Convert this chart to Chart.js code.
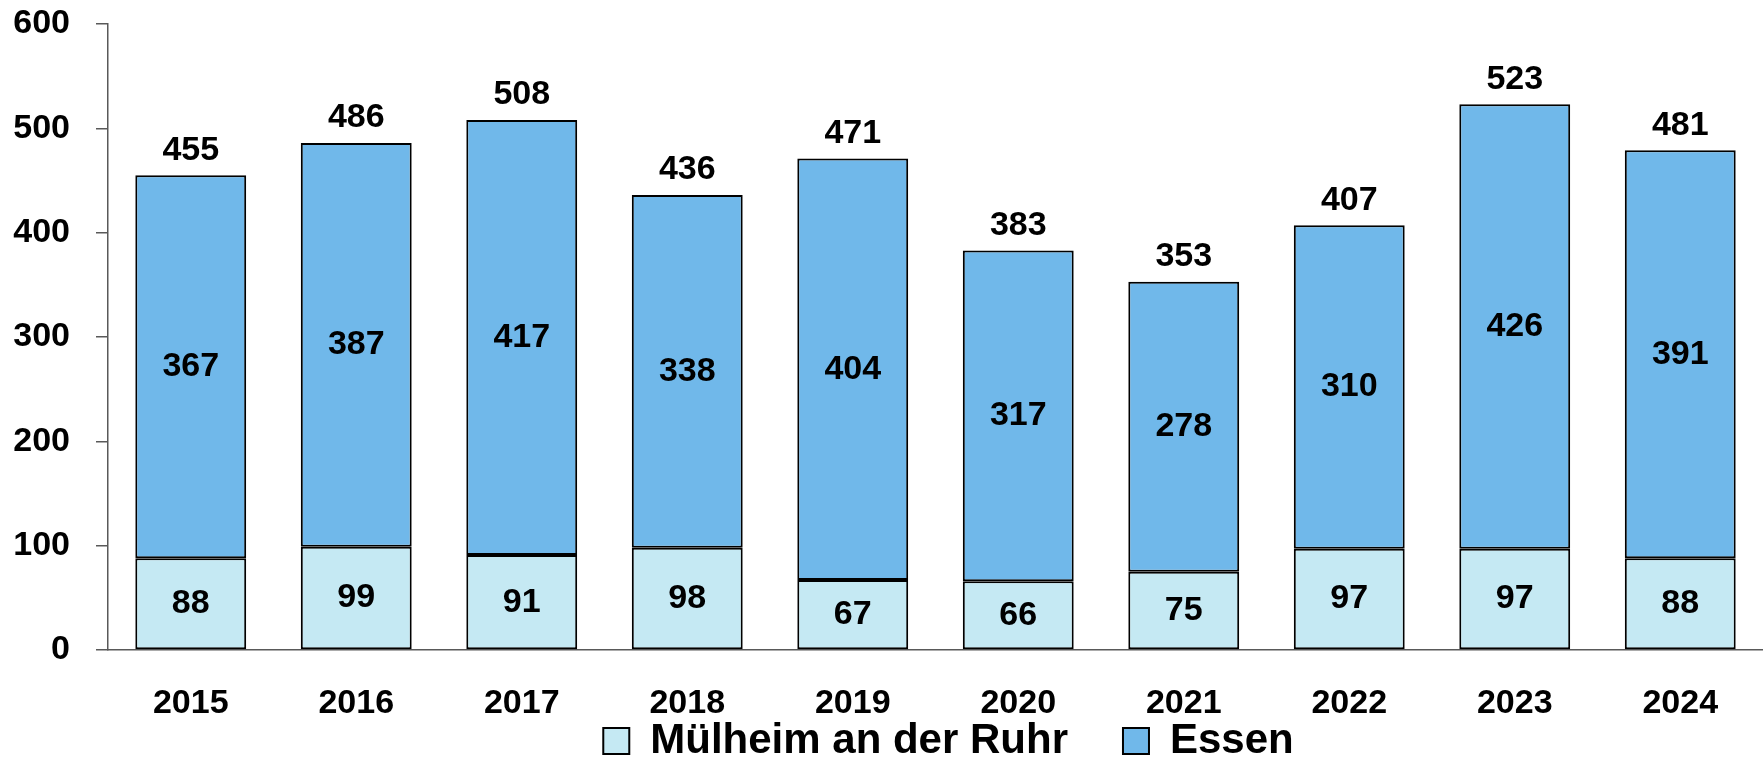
<!DOCTYPE html>
<html>
<head>
<meta charset="utf-8">
<script src="https://cdn.jsdelivr.net/npm/chart.js@4/dist/chart.umd.min.js"></script>
<style>
  html, body { margin: 0; padding: 0; background: #fff; }
  #wrap { width: 1763px; height: 759px; }
</style>
</head>
<body>
<div id="wrap"><canvas id="barChart"></canvas></div>
<script>
// ====== Daten ======
const jahre = ['2015', '2016', '2017', '2018', '2019', '2020', '2021', '2022', '2023', '2024'];
const muelheim = [88, 99, 91, 98, 67, 66, 75, 97, 97, 88];
const essen = [367, 387, 417, 338, 404, 317, 278, 310, 426, 391];
// Summen wie im Original beschriftet
const summen = [455, 486, 508, 436, 471, 383, 353, 407, 523, 481];
const yTicks = [0, 100, 200, 300, 400, 500, 600];

const FONT = "'Liberation Sans', Arial, sans-serif";

// Werte in die Segmente und Summe über die Säule schreiben
const labelPlugin = {
  id: 'labels',
  afterDatasetsDraw(chart) {
    const ctx = chart.ctx;
    ctx.save();
    ctx.font = 'bold 34px ' + FONT;
    ctx.fillStyle = '#000';
    ctx.textAlign = 'center';
    ctx.textBaseline = 'middle';
    chart.data.datasets.forEach((ds, i) => {
      chart.getDatasetMeta(i).data.forEach((bar, j) => {
        const p = bar.getProps(['x', 'y', 'base'], true);
        ctx.fillText(ds.data[j], p.x, (p.y + p.base) / 2);
      });
    });
    const top = chart.getDatasetMeta(chart.data.datasets.length - 1).data;
    top.forEach((bar, j) => {
      const p = bar.getProps(['x', 'y'], true);
      ctx.fillText(summen[j], p.x, p.y - 25);
    });
    ctx.restore();
  }
};

// Legende etwas verschieben (Mitte über der Zeichenfläche)
const legendShift = {
  id: 'legendShift',
  afterLayout(chart) {
    const lg = chart.legend;
    lg.left += 67;
    lg.right += 67;
    lg.top = 665;
    lg.bottom = 759;
  }
};

const ctxBar = document.getElementById('barChart').getContext('2d');
new Chart(ctxBar, {
  type: 'bar',
  data: {
    labels: jahre,
    datasets: [
      {
        label: 'Mülheim an der Ruhr',
        data: muelheim,
        backgroundColor: '#C5E9F3',
        borderColor: '#000',
        borderWidth: 2,
        borderSkipped: false,
        barPercentage: 0.67,
        categoryPercentage: 1
      },
      {
        label: 'Essen',
        data: essen,
        backgroundColor: '#70B8EA',
        borderColor: '#000',
        borderWidth: 2,
        borderSkipped: false,
        barPercentage: 0.67,
        categoryPercentage: 1
      }
    ]
  },
  options: {
    responsive: true,
    maintainAspectRatio: false,
    animation: false,
    layout: { padding: { top: 24, left: 0, right: 0, bottom: 0 } },
    plugins: {
      tooltip: { enabled: false },
      legend: {
        position: 'bottom',
        maxHeight: 40,
        labels: {
          color: '#000',
          font: { family: FONT, size: 42, weight: 'bold' },
          boxWidth: 26,
          boxHeight: 26,
          padding: 55
        }
      }
    },
    scales: {
      x: {
        stacked: true,
        grid: { display: false, drawTicks: false },
        border: { display: true, color: '#595959', width: 1.5 },
        ticks: {
          color: '#000',
          font: { family: FONT, size: 34, weight: 'bold' },
          padding: 33,
          maxRotation: 0
        },
        afterFit(scale) { scale.height = 69; }
      },
      y: {
        stacked: true,
        min: 0,
        max: 600,
        afterBuildTicks(scale) { scale.ticks = yTicks.map(v => ({ value: v })); },
        grid: { drawOnChartArea: false, drawTicks: true, tickLength: 12, color: '#595959', lineWidth: 1.5 },
        border: { display: true, color: '#595959', width: 1.5 },
        ticks: {
          color: '#000',
          font: { family: FONT, size: 34, weight: 'bold' },
          padding: 26
        },
        afterFit(scale) {
          scale.width = 108;
          scale.paddingTop = 0;
          scale.paddingBottom = 0;
        }
      }
    }
  },
  plugins: [labelPlugin, legendShift]
});
</script>
</body>
</html>
